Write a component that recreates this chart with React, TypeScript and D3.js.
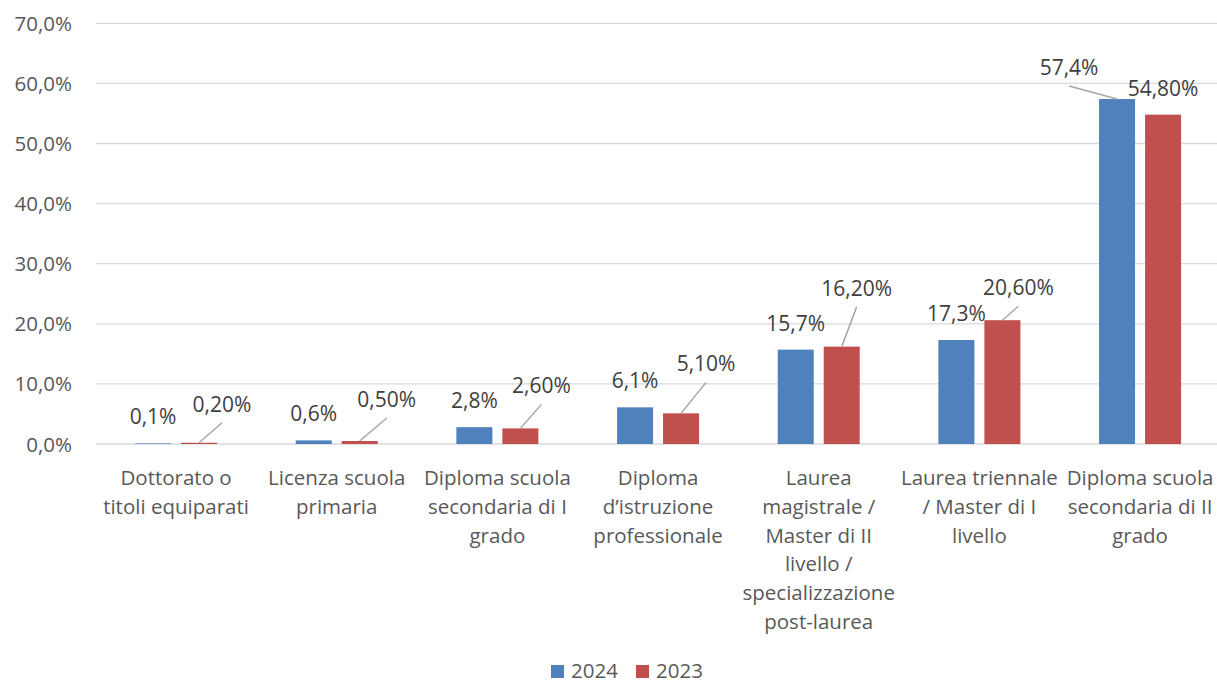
import React from "react";
import * as d3 from "d3";

const categories: string[] = [
  "Dottorato o\ntitoli equiparati",
  "Licenza scuola\nprimaria",
  "Diploma scuola\nsecondaria di I\ngrado",
  "Diploma\nd’istruzione\nprofessionale",
  "Laurea\nmagistrale /\nMaster di II\nlivello /\nspecializzazione\npost-laurea",
  "Laurea triennale\n/ Master di I\nlivello",
  "Diploma scuola\nsecondaria di II\ngrado",
];
const values2024: number[] = [0.1, 0.6, 2.8, 6.1, 15.7, 17.3, 57.4];
const values2023: number[] = [0.2, 0.5, 2.6, 5.1, 16.2, 20.6, 54.8];
const labels2024: string[] = ["0,1%", "0,6%", "2,8%", "6,1%", "15,7%", "17,3%", "57,4%"];
const labels2023: string[] = ["0,20%", "0,50%", "2,60%", "5,10%", "16,20%", "20,60%", "54,80%"];
const yTicks: number[] = [0, 10, 20, 30, 40, 50, 60, 70];
const seriesNames: string[] = ["2024", "2023"];

// label displacement (layout) relative to default "outside end" spot
const offsets2024: [number, number][] = [[0, 0], [0, 0], [0, 0], [0, 0], [0, 0], [0, 0], [-48, -5]];
const offsets2023: [number, number][] = [[23, -12], [27, -15], [21, -16], [25, -23], [15, -32], [16, -6], [0, 0]];

const W = 1217;
const H = 684;
const BLUE = "#4f81bd";
const RED = "#c0504d";
const FONT = "'Open Sans', sans-serif";
const AXIS_FS = 20.5;
const LABEL_FS = 21;

export default function App() {
  const x = d3.scaleBand<number>().domain(d3.range(categories.length)).range([95.7, 1220.4]).paddingInner(0).paddingOuter(0);
  const y = d3.scaleLinear().domain([0, 70]).range([444, 23.3]);
  const bw = 36;
  const gap = 10;
  const series = [
    { name: seriesNames[0], vals: values2024, labels: labels2024, offs: offsets2024, color: BLUE, dx: -(gap / 2 + bw / 2) },
    { name: seriesNames[1], vals: values2023, labels: labels2023, offs: offsets2023, color: RED, dx: gap / 2 + bw / 2 },
  ];
  const fmt = (v: number) => d3.format(".1f")(v).replace(".", ",") + "%";

  return (
    <svg width={W} height={H} style={{ position: "absolute", left: 0, top: 0, background: "#fff" }} fontFamily={FONT}>
      {yTicks.map((t) => (
        <g key={t}>
          <line x1={95.7} x2={W} y1={y(t)} y2={y(t)} stroke="#d9d9d9" strokeWidth={1.3} />
          <text x={72} y={y(t) + 7.5} textAnchor="end" fontSize={AXIS_FS} fill="#595959">
            {fmt(t)}
          </text>
        </g>
      ))}
      {series.map((s) =>
        s.vals.map((v, i) => {
          const cx = (x(i) as number) + x.bandwidth() / 2 + s.dx;
          const top = y(v);
          return (
            <rect key={s.name + i} x={cx - bw / 2} y={top} width={bw} height={y(0) - top} fill={s.color} />
          );
        })
      )}
      {series.map((s) =>
        s.vals.map((v, i) => {
          const cx = (x(i) as number) + x.bandwidth() / 2 + s.dx;
          const top = y(v);
          const [ox, oy] = s.offs[i];
          const lx = cx + ox;
          const ly = top - 19 + oy;
          const moved = ox !== 0 || oy !== 0;
          return (
            <g key={"l" + s.name + i}>
              {moved && (
                <line x1={lx} y1={ly + 11} x2={cx} y2={top} stroke="#a6a6a6" strokeWidth={1.5} />
              )}
              <text x={lx} y={ly} textAnchor="middle" fontSize={LABEL_FS} fill="#404040">
                {s.labels[i]}
              </text>
            </g>
          );
        })
      )}
      {categories.map((c, i) => {
        const cx = (x(i) as number) + x.bandwidth() / 2;
        return (
          <text key={c} x={cx} y={485} textAnchor="middle" fontSize={AXIS_FS} fill="#595959">
            {c.split("\n").map((ln, k) => (
              <tspan key={k} x={cx} dy={k === 0 ? 0 : 28.8}>
                {ln}
              </tspan>
            ))}
          </text>
        );
      })}
      {series.map((s, k) => {
        const lx0 = 551 + k * 85;
        return (
          <g key={"leg" + s.name}>
            <rect x={lx0} y={665} width={13} height={13} fill={s.color} />
            <text x={lx0 + 20} y={678} fontSize={AXIS_FS} fill="#595959">
              {s.name}
            </text>
          </g>
        );
      })}
    </svg>
  );
}
